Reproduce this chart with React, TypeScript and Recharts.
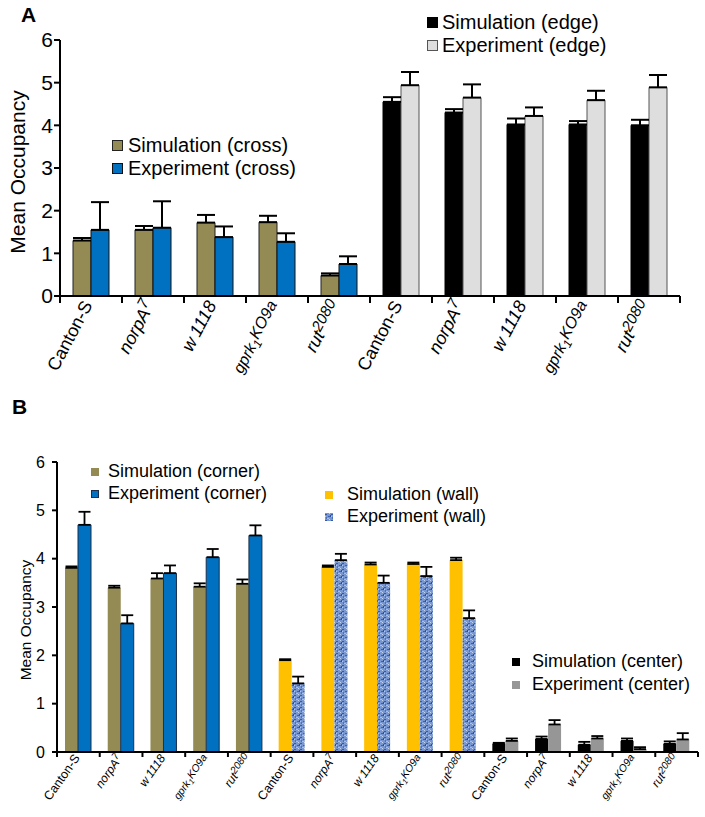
import React from 'react';
import { BarChart, Bar, XAxis, YAxis, ErrorBar, Legend, Cell } from 'recharts';

const STRAINS = ['Canton-S', 'norpA7', 'w1118', 'gprk1KO9a', 'rut2080'];
const Y_TICKS = [0, 1, 2, 3, 4, 5, 6];
const Y_LABEL = 'Mean Occupancy';

// how each strain name is typeset (italic genotype, super/subscripts)
const TICK_PARTS = [
  [{ t: 'Canton-S' }],
  [{ t: 'norpA', it: true }, { t: '7', it: true, rise: 0.35, scale: 0.85 }],
  [{ t: 'w\u2009', it: true }, { t: '1118', it: true }],
  [{ t: 'gprk', it: true }, { t: '1', it: true, rise: -0.2, scale: 0.75 }, { t: 'KO9a', it: true, rise: 0.12 }],
  [{ t: 'rut', it: true }, { t: '2080', it: true, rise: 0.3, scale: 0.85 }],
];

// Panel A: cross / edge
const GROUPS_A = ['cross', 'edge'];
const crossSim = [1.3, 1.55, 1.72, 1.73, 0.48];
const crossSimErr = [0.06, 0.09, 0.18, 0.15, 0.05];
const crossExp = [1.55, 1.6, 1.38, 1.27, 0.75];
const crossExpErr = [0.65, 0.62, 0.25, 0.2, 0.18];
const edgeSim = [4.55, 4.3, 4.02, 4.02, 4.0];
const edgeSimErr = [0.11, 0.08, 0.14, 0.08, 0.13];
const edgeExp = [4.94, 4.65, 4.22, 4.59, 4.89];
const edgeExpErr = [0.31, 0.31, 0.2, 0.22, 0.29];

// Panel B: corner / wall / center
const GROUPS_B = ['corner', 'wall', 'center'];
const cornerSim = [3.81, 3.4, 3.59, 3.42, 3.48];
const cornerSimErr = [0.03, 0.04, 0.11, 0.07, 0.09];
const cornerExp = [4.7, 2.66, 3.7, 4.03, 4.48];
const cornerExpErr = [0.27, 0.17, 0.16, 0.17, 0.21];
const wallSim = [1.9, 3.83, 3.88, 3.89, 3.97];
const wallSimErr = [0.02, 0.03, 0.04, 0.03, 0.05];
const wallExp = [1.42, 3.97, 3.5, 3.64, 2.77];
const wallExpErr = [0.14, 0.13, 0.15, 0.19, 0.16];
const centerSim = [0.17, 0.27, 0.15, 0.23, 0.17];
const centerSimErr = [0.02, 0.05, 0.06, 0.05, 0.05];
const centerExp = [0.23, 0.57, 0.28, 0.06, 0.26];
const centerExpErr = [0.05, 0.09, 0.05, 0.04, 0.13];

const FONT = 'Arial, "Liberation Sans", Helvetica, sans-serif';
const OLIVE = '#948a54';
const BLUE = '#0070c0';
const YELLOW = '#ffc000';
const LIGHT = '#dedede';
const GRAY = '#969696';

function buildRows(groups: string[], sims: number[][], simErrs: number[][], exps: number[][], expErrs: number[][]) {
  return groups.flatMap((g, gi) =>
    STRAINS.map((s, si) => ({
      id: `${g}-${s}`,
      group: gi,
      sim: sims[gi][si],
      simErr: [0, simErrs[gi][si]],
      exp: exps[gi][si],
      expErr: [0, expErrs[gi][si]],
    }))
  );
}

const dataA = buildRows(GROUPS_A, [crossSim, edgeSim], [crossSimErr, edgeSimErr], [crossExp, edgeExp], [crossExpErr, edgeExpErr]);
const dataB = buildRows(
  GROUPS_B,
  [cornerSim, wallSim, centerSim],
  [cornerSimErr, wallSimErr, centerSimErr],
  [cornerExp, wallExp, centerExp],
  [cornerExpErr, wallExpErr, centerExpErr]
);

function StrainTick(props: any) {
  const { x, y, index, band, fonts, rot, offX, offY, len, count } = props;
  const si = index % STRAINS.length;
  const fs = fonts[si];
  const ax = x + offX;
  const ay = y + offY;
  let cur = 0;
  return (
    <g>
      <line x1={x - band / 2} x2={x - band / 2} y1={y} y2={y + len} stroke="#000" strokeWidth={2} />
      {index === count - 1 && (
        <line x1={x + band / 2} x2={x + band / 2} y1={y} y2={y + len} stroke="#000" strokeWidth={2} />
      )}
      <g transform={`translate(${ax} ${ay}) rotate(${-rot})`}>
        <text x={0} y={0} textAnchor="end" fontSize={fs} fill="#000" fontFamily={FONT}>
          {TICK_PARTS[si].map((p: any, k: number) => {
            const rise = p.rise ?? 0;
            const d = (cur - rise) * fs;
            cur = rise;
            return (
              <tspan key={k} dy={d} fontStyle={p.it ? 'italic' : 'normal'} fontSize={fs * (p.scale ?? 1)}>
                {p.t}
              </tspan>
            );
          })}
        </text>
      </g>
    </g>
  );
}

function LegendSwatch({ size, fill, stroke }: any) {
  return (
    <svg width={size} height={size} style={{ display: 'block' }}>
      <rect
        x={stroke ? 0.5 : 0}
        y={stroke ? 0.5 : 0}
        width={stroke ? size - 1 : size}
        height={stroke ? size - 1 : size}
        fill={fill}
        stroke={stroke || 'none'}
      />
    </svg>
  );
}

function makeLegend(groups: string[], spots: any[], colors: any[]) {
  return () => (
    <div style={{ position: 'relative', width: '100%', height: '100%', fontFamily: FONT }}>
      {groups.map((g, gi) => {
        const s = spots[gi];
        const items = [
          { label: `Simulation (${g})`, fill: colors[gi].sim, stroke: colors[gi].simStroke },
          { label: `Experiment (${g})`, fill: colors[gi].exp, stroke: colors[gi].expStroke },
        ];
        return items.map((it, k) => (
          <div key={`${g}-${k}`}>
            <div style={{ position: 'absolute', left: s.sqX, top: s.y + k * s.lineH - s.sq / 2 }}>
              <LegendSwatch size={s.sq} fill={it.fill} stroke={it.stroke} />
            </div>
            <div
              style={{
                position: 'absolute',
                left: s.textX,
                top: s.y + k * s.lineH - s.fs * 0.6,
                fontSize: s.fs,
                lineHeight: `${s.fs * 1.2}px`,
                whiteSpace: 'nowrap',
                color: '#000',
              }}
            >
              {it.label}
            </div>
          </div>
        ));
      })}
    </div>
  );
}

function Panel({ cfg, data }: any) {
  const plotW = cfg.width - cfg.margin.left - cfg.margin.right - cfg.yAxisWidth;
  const band = plotW / data.length;
  return (
    <BarChart width={cfg.width} height={cfg.height} data={data} margin={cfg.margin} barGap={0} barSize={cfg.barSize}>
      <defs>
        <pattern id="wallTexture" width="6" height="6" patternUnits="userSpaceOnUse">
          <rect width="6" height="6" fill="#7896d0" />
          <rect x="0" y="1" width="2" height="1" fill="#355aa8" />
          <rect x="3" y="3" width="2" height="1" fill="#3d61ae" />
          <rect x="1" y="4" width="1" height="2" fill="#4d70b8" />
          <rect x="4" y="0" width="1" height="1" fill="#c4d3ee" />
          <rect x="2" y="5" width="2" height="1" fill="#aabfe6" />
          <rect x="5" y="2" width="1" height="2" fill="#2a4f9e" />
          <rect x="0" y="3" width="1" height="1" fill="#b6c8ea" />
        </pattern>
      </defs>
      <XAxis
        dataKey="id"
        interval={0}
        height={cfg.xAxisHeight}
        tickSize={0}
        tickMargin={0}
        tickLine={false}
        axisLine={{ stroke: '#000', strokeWidth: 2 }}
        tick={
          <StrainTick
            band={band}
            count={data.length}
            fonts={cfg.tickFonts}
            rot={cfg.tickAngle}
            offX={cfg.tickDx}
            offY={cfg.tickDy}
            len={cfg.tickLen}
          />
        }
      />
      <YAxis
        width={cfg.yAxisWidth}
        domain={[0, 6]}
        ticks={Y_TICKS}
        interval={0}
        tickSize={cfg.yTickSize}
        tickMargin={cfg.yTickMargin}
        axisLine={{ stroke: '#000', strokeWidth: 2 }}
        tickLine={{ stroke: '#000', strokeWidth: 2 }}
        tick={{ fill: '#000', fontSize: cfg.yFont, fontFamily: FONT }}
        label={{
          content: (p: any) => {
            const vb = p.viewBox || { y: 0, height: 0 };
            const cy = vb.y + vb.height / 2 + cfg.yLabelDy;
            return (
              <text
                x={cfg.yLabelX}
                y={cy}
                textAnchor="middle"
                dominantBaseline="central"
                fontSize={cfg.yLabelFont}
                fontFamily={FONT}
                fill="#000"
                transform={`rotate(-90 ${cfg.yLabelX} ${cy})`}
              >
                {Y_LABEL}
              </text>
            );
          },
        }}
      />
      <Legend
        layout="horizontal"
        verticalAlign="middle"
        align="center"
        wrapperStyle={{ left: 0, top: 0, width: cfg.width, height: cfg.height, pointerEvents: 'none' }}
        content={makeLegend(cfg.groups, cfg.legendSpots, cfg.colors)}
      />
      <Bar dataKey="sim" isAnimationActive={false}>
        {data.map((d: any) => (
          <Cell
            key={d.id}
            fill={cfg.colors[d.group].sim}
            stroke={cfg.colors[d.group].simStroke || 'none'}
            strokeWidth={1}
          />
        ))}
        <ErrorBar dataKey="simErr" direction="y" width={cfg.errWidth} strokeWidth={cfg.errStroke} stroke="#000" />
      </Bar>
      <Bar dataKey="exp" isAnimationActive={false}>
        {data.map((d: any) => (
          <Cell
            key={d.id}
            fill={cfg.colors[d.group].exp}
            stroke={cfg.colors[d.group].expStroke || 'none'}
            strokeWidth={1}
          />
        ))}
        <ErrorBar dataKey="expErr" direction="y" width={cfg.errWidth} strokeWidth={cfg.errStroke} stroke="#000" />
      </Bar>
    </BarChart>
  );
}

const CFG_A = {
  groups: GROUPS_A,
  width: 705,
  height: 400,
  margin: { top: 40, right: 25, left: 0, bottom: 0 },
  yAxisWidth: 60,
  xAxisHeight: 104,
  barSize: 18,
  yFont: 21,
  yTickSize: 6,
  yTickMargin: 1,
  yLabelFont: 21,
  yLabelX: 17,
  yLabelDy: 4,
  errWidth: 9,
  errStroke: 2,
  tickFonts: [18, 18, 18, 16, 18],
  tickAngle: 62,
  tickDx: 2,
  tickDy: 9,
  tickLen: 7,
  colors: [
    { sim: OLIVE, simStroke: '#222', exp: BLUE, expStroke: '#111' },
    { sim: '#000', simStroke: '#000', exp: LIGHT, expStroke: '#555' },
  ],
  legendSpots: [
    { sqX: 112, textX: 128, y: 145, lineH: 23, sq: 11, fs: 20 },
    { sqX: 427, textX: 442, y: 22, lineH: 23, sq: 11, fs: 20 },
  ],
};

const CFG_B = {
  groups: GROUPS_B,
  width: 705,
  height: 417,
  margin: { top: 62, right: 7, left: 0, bottom: 0 },
  yAxisWidth: 57,
  xAxisHeight: 65,
  barSize: 13,
  yFont: 16,
  yTickSize: 5,
  yTickMargin: 7,
  yLabelFont: 15.5,
  yLabelX: 25,
  yLabelDy: 13,
  errWidth: 6,
  errStroke: 1.8,
  tickFonts: [12.5, 12, 12, 10.5, 12],
  tickAngle: 55,
  tickDx: 2,
  tickDy: 6,
  tickLen: 5,
  colors: [
    { sim: OLIVE, exp: BLUE, expStroke: '#1b2f4a' },
    { sim: YELLOW, exp: 'url(#wallTexture)' },
    { sim: '#000', exp: GRAY },
  ],
  legendSpots: [
    { sqX: 91, textX: 108, y: 72, lineH: 22, sq: 8, fs: 18 },
    { sqX: 325, textX: 347, y: 95, lineH: 22, sq: 8, fs: 18 },
    { sqX: 512, textX: 532, y: 262, lineH: 23, sq: 8, fs: 18 },
  ],
};

export default function App() {
  const title = { position: 'absolute' as const, fontWeight: 700, fontSize: 21, fontFamily: FONT, lineHeight: '21px' };
  return (
    <div style={{ position: 'absolute', left: 0, top: 0, width: 705, height: 817, background: '#fff', fontFamily: FONT }}>
      <div style={{ position: 'absolute', left: 0, top: 0 }}>
        <Panel cfg={CFG_A} data={dataA} />
      </div>
      <div style={{ position: 'absolute', left: 0, top: 400 }}>
        <Panel cfg={CFG_B} data={dataB} />
      </div>
      <div style={{ ...title, left: 21, top: 4 }}>A</div>
      <div style={{ ...title, left: 12, top: 396 }}>B</div>
    </div>
  );
}
